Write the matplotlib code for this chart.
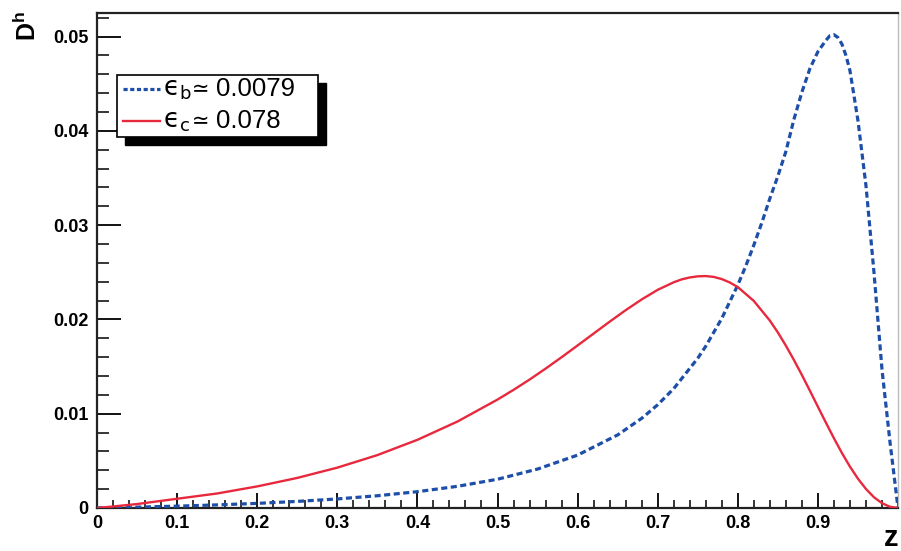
import matplotlib
matplotlib.use("Agg")
import matplotlib.pyplot as plt
from matplotlib.patches import Rectangle
from matplotlib.lines import Line2D
from matplotlib.ticker import MultipleLocator

plt.rcParams['mathtext.fontset'] = 'custom'
plt.rcParams['mathtext.rm'] = 'Liberation Sans'
plt.rcParams['mathtext.bf'] = 'Liberation Sans:bold'

# ---- data ----
z_b = [0.0, 0.05, 0.10, 0.15, 0.20, 0.25, 0.30, 0.35, 0.40, 0.45, 0.50, 0.55, 0.60,
       0.65, 0.68, 0.70, 0.72, 0.75, 0.76, 0.78, 0.80, 0.81, 0.82, 0.83, 0.84, 0.85,
       0.86, 0.87, 0.88, 0.89, 0.90, 0.91, 0.915, 0.92, 0.925, 0.93, 0.935, 0.94, 0.95,
       0.96, 0.97, 0.98, 0.99, 1.0]
d_b = [0.0, 0.00009, 0.000195, 0.00033, 0.00049, 0.0007, 0.00096, 0.0013, 0.00173,
       0.0023, 0.00305, 0.00413, 0.00561, 0.00775, 0.00951, 0.01095, 0.01266, 0.01588,
       0.01716, 0.02011, 0.02365, 0.02567, 0.02788, 0.03026, 0.03282, 0.0352, 0.0378,
       0.0412, 0.0441, 0.0466, 0.0484, 0.0496, 0.0501, 0.0502, 0.0499, 0.0492, 0.0480,
       0.0464, 0.0411, 0.0342, 0.0250, 0.0147, 0.0070, 0.0]

z_c = [0.0, 0.02, 0.05, 0.10, 0.15, 0.20, 0.25, 0.30, 0.35, 0.40, 0.45, 0.50, 0.52,
       0.54, 0.56, 0.58, 0.60, 0.62, 0.64, 0.66, 0.68, 0.70, 0.72, 0.73, 0.74, 0.75,
       0.76, 0.77, 0.78, 0.79, 0.80, 0.82, 0.84, 0.85, 0.86, 0.87, 0.88, 0.89, 0.90,
       0.91, 0.92, 0.93, 0.94, 0.95, 0.96, 0.97, 0.98, 0.99, 1.0]
d_c = [0.0, 0.00016, 0.00042, 0.00098, 0.00154, 0.00229, 0.00319, 0.00428, 0.00561,
       0.00723, 0.00917, 0.0115, 0.01253, 0.01362, 0.01478, 0.01599, 0.01724, 0.0185,
       0.01976, 0.02098, 0.02212, 0.02314, 0.02394, 0.02425, 0.02445, 0.02457, 0.0246,
       0.02451, 0.02428, 0.02392, 0.02343, 0.02196, 0.01988, 0.01862, 0.01722, 0.01571,
       0.01411, 0.01244, 0.01074, 0.00905, 0.0074, 0.00583, 0.00439, 0.00311, 0.00202,
       0.00114, 0.00051, 0.00013, 0.0]

label_b = "0.0079"
label_c = "0.078"
xtick_vals = [0.0, 0.1, 0.2, 0.3, 0.4, 0.5, 0.6, 0.7, 0.8, 0.9]
xtick_labels = ["0", "0.1", "0.2", "0.3", "0.4", "0.5", "0.6", "0.7", "0.8", "0.9"]
ytick_vals = [0.0, 0.01, 0.02, 0.03, 0.04, 0.05]
ytick_labels = ["0", "0.01", "0.02", "0.03", "0.04", "0.05"]

BLUE = '#1d4ea8'
RED = '#e8293d'
W, H = 901, 551

fig = plt.figure(figsize=(W / 100, H / 100), dpi=100)
fig.patch.set_facecolor('white')
ax = fig.add_axes([97 / W, 43 / H, 801 / W, 495 / H])

ax.plot(z_b, d_b, color=BLUE, lw=2.3, dashes=(1.9, 1.1), dash_capstyle='butt', zorder=3)
ax.plot(z_c, d_c, color=RED, lw=1.7, zorder=3)

ax.set_xlim(0, 1.0)
ax.set_ylim(0, 0.0525)

tick_font = dict(family='Liberation Sans', weight='bold', size=13)
ax.set_xticks(xtick_vals)
ax.set_xticklabels(xtick_labels, fontdict=tick_font)
ax.set_yticks(ytick_vals)
ax.set_yticklabels(ytick_labels, fontdict=tick_font)
ax.xaxis.set_minor_locator(MultipleLocator(0.02))
ax.yaxis.set_minor_locator(MultipleLocator(0.002))
ax.tick_params(axis='x', which='major', direction='in', length=11, width=1.3, pad=5)
ax.tick_params(axis='x', which='minor', direction='in', length=5.8, width=1.1)
ax.tick_params(axis='y', which='major', direction='in', length=17, width=1.3, pad=6)
ax.tick_params(axis='y', which='minor', direction='in', length=8.6, width=1.1)
ax.tick_params(top=False, right=False, which='both')
for s in ax.spines.values():
    s.set_linewidth(1.6)
    s.set_color('#222222')
ax.spines['right'].set_color('#bbbbbb')
ax.spines['right'].set_linewidth(1.0)

# axis titles
fig.text(27 / W, 1 - 11 / H, r'$\mathbf{D}^{\mathbf{h}}$', rotation=90,
         ha='center', va='top', fontsize=18, math_fontfamily='custom')
fig.text(884 / W, 5 / H, 'z', ha='left', va='baseline', fontsize=21,
         family='Liberation Sans', weight='bold')

# legend box with black shadow
bx0, by0, bx1, by1 = 117, 75, 318, 137
bw, bh = (bx1 - bx0) / W, (by1 - by0) / H
fig.patches.append(Rectangle(((bx0 + 8) / W, (H - by1 - 8) / H), bw, bh,
                             transform=fig.transFigure, facecolor='black',
                             edgecolor='black', zorder=5))
fig.patches.append(Rectangle((bx0 / W, (H - by1) / H), bw, bh,
                             transform=fig.transFigure, facecolor='white',
                             edgecolor='black', lw=1.2, zorder=6))
for yy, col, dashed, lab, sub in [(89, BLUE, True, label_b, 'b'), (121, RED, False, label_c, 'c')]:
    ln = Line2D([123 / W, 160 / W], [(H - yy) / H] * 2, transform=fig.transFigure,
                color=col, lw=2.3 if dashed else 1.7, zorder=7)
    if dashed:
        ln.set_dashes((1.3, 0.8))
        ln.set_dash_capstyle('butt')
    fig.lines.append(ln)
    fig.text(163 / W, (H - yy) / H, r'$\mathrm{ϵ}_{\mathrm{%s}}$' % sub,
             ha='left', va='center', fontsize=18.5, math_fontfamily='dejavusans', zorder=8)
    fig.text(192 / W, (H - yy) / H, '≃', ha='left', va='center', fontsize=15,
             family='DejaVu Sans', zorder=8)
    fig.text(216 / W, (H - yy) / H, lab, ha='left', va='center', fontsize=18.5,
             family='Liberation Sans', zorder=8)

fig.savefig('out.png', dpi=100)
